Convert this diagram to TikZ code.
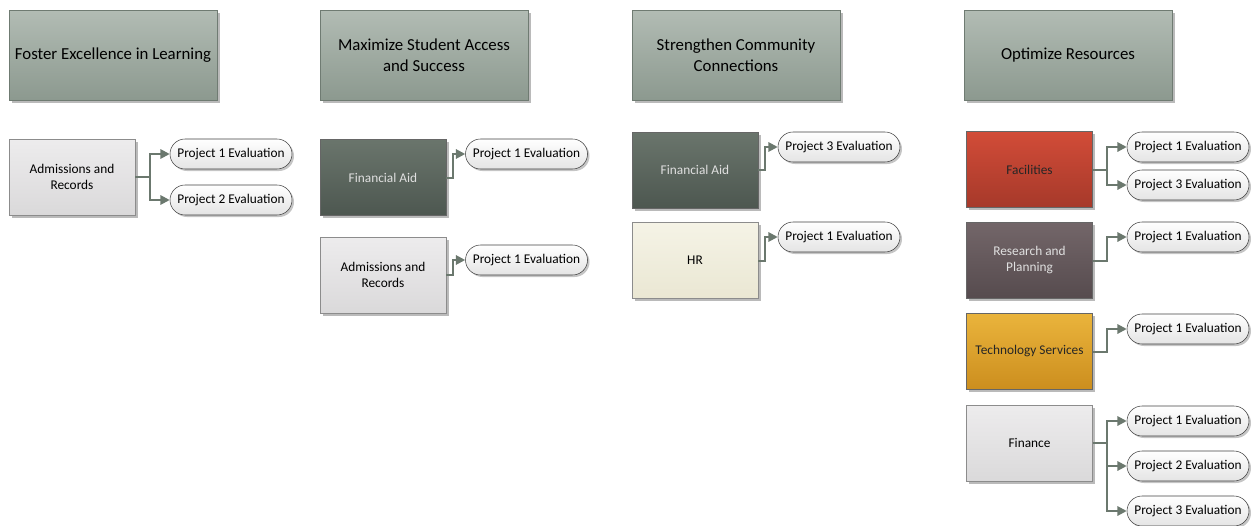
\documentclass[tikz,border=0pt]{standalone}
\usepackage{fontspec}
\setmainfont{Carlito}
\usetikzlibrary{shadows,arrows.meta}
\definecolor{goaltop}{HTML}{B2BCB4}
\definecolor{goalbot}{HTML}{8C998F}
\definecolor{goalline}{HTML}{6F7B72}
\definecolor{greytop}{HTML}{EDECED}
\definecolor{greybot}{HTML}{DAD9DA}
\definecolor{darktop}{HTML}{6A756C}
\definecolor{darkbot}{HTML}{4D5750}
\definecolor{creamtop}{HTML}{F5F3E6}
\definecolor{creambot}{HTML}{EAE7D3}
\definecolor{redtop}{HTML}{D24C38}
\definecolor{redbot}{HTML}{A6392A}
\definecolor{mauvetop}{HTML}{736669}
\definecolor{mauvebot}{HTML}{564B4E}
\definecolor{goldtop}{HTML}{EAB43C}
\definecolor{goldbot}{HTML}{CC8E1E}
\definecolor{pillbot}{HTML}{E4E4E4}
\definecolor{linkcol}{HTML}{6B786E}
\tikzstyle{goal} = [rectangle, minimum width=156pt, minimum height=67.5pt,
align=center, draw=goalline, top color=goaltop, bottom color=goalbot,
drop shadow={shadow xshift=2pt, shadow yshift=-2pt, fill=black!45, opacity=.6},
font=\fontsize{12.6}{15.75}\selectfont]
\tikzstyle{unit} = [rectangle, minimum width=94.5pt, minimum height=57pt,
align=center, draw=black!45, top color=greytop, bottom color=greybot,
drop shadow={shadow xshift=2pt, shadow yshift=-2pt, fill=black!45, opacity=.6},
font=\fontsize{10}{12}\selectfont]
\tikzstyle{darkunit} = [unit, draw=black!60, top color=darktop, bottom color=darkbot, text=white!88!black]
\tikzstyle{project} = [rectangle, rounded corners=11.25pt, minimum width=91.5pt,
minimum height=22.5pt, draw=black!75, top color=white, bottom color=pillbot,
drop shadow={shadow xshift=1.5pt, shadow yshift=-1.5pt, fill=black!45, opacity=.5},
font=\fontsize{10}{12}\selectfont]
\tikzstyle{arrow} = [line width=1.5pt, draw=linkcol, -{Triangle[length=7pt,width=7pt,fill=linkcol]}]

\begin{document}
\begin{tikzpicture}[x=0.75pt, y=-0.75pt]
    \useasboundingbox (0,0) rectangle (1252,525);
    \node (g1) [goal] at (113,55) {Foster Excellence in Learning};
    \node (g2) [goal] at (424,55) {Maximize Student Access\\and Success};
    \node (g3) [goal] at (736,55) {Strengthen Community\\Connections};
    \node (g4) [goal] at (1068,55) {Optimize Resources};

    \node (u1) [unit] at (72,177) {Admissions and\\Records};
    \node (p11) [project] at (231,154) {Project 1 Evaluation};
    \node (p12) [project] at (231,200) {Project 2 Evaluation};
    \draw [arrow] (u1.east) -- ++(15,0) |- (p11.west);
    \draw [arrow] (u1.east) -- ++(15,0) |- (p12.west);

    \node (u21) [darkunit] at (383,177.5) {Financial Aid};
    \node (p21) [project] at (526.5,154) {Project 1 Evaluation};
    \node (u22) [unit] at (383,275) {Admissions and\\Records};
    \node (p22) [project] at (526.5,260) {Project 1 Evaluation};
    \draw [arrow] (u21.east) -- ++(7,0) |- (p21.west);
    \draw [arrow] (u22.east) -- ++(7,0) |- (p22.west);

    \node (u31) [darkunit] at (695,170) {Financial Aid};
    \node (p31) [project] at (839,147) {Project 3 Evaluation};
    \node (u32) [unit, top color=creamtop, bottom color=creambot] at (695,260.5) {HR};
    \node (p32) [project] at (839,237) {Project 1 Evaluation};
    \draw [arrow] (u31.east) -- ++(7,0) |- (p31.west);
    \draw [arrow] (u32.east) -- ++(7,0) |- (p32.west);

    \node (u41) [unit, draw=black!60, top color=redtop, bottom color=redbot, text=black!85] at (1029.5,169.5) {Facilities};
    \node (p411) [project] at (1188,147) {Project 1 Evaluation};
    \node (p412) [project] at (1188,185) {Project 3 Evaluation};
    \node (u42) [darkunit, top color=mauvetop, bottom color=mauvebot] at (1029.5,260.5) {Research and\\Planning};
    \node (p42) [project] at (1188,237) {Project 1 Evaluation};
    \node (u43) [unit, draw=black!60, top color=goldtop, bottom color=goldbot, text=black!85] at (1029.5,351.5) {Technology Services};
    \node (p43) [project] at (1188,329) {Project 1 Evaluation};
    \node (u44) [unit] at (1029.5,443) {Finance};
    \node (p441) [project] at (1188,421) {Project 1 Evaluation};
    \node (p442) [project] at (1188,466) {Project 2 Evaluation};
    \node (p443) [project] at (1188,511) {Project 3 Evaluation};
    \draw [arrow] (u41.east) -- ++(14,0) |- (p411.west);
    \draw [arrow] (u41.east) -- ++(14,0) |- (p412.west);
    \draw [arrow] (u42.east) -- ++(14,0) |- (p42.west);
    \draw [arrow] (u43.east) -- ++(14,0) |- (p43.west);
    \draw [arrow] (u44.east) -- ++(14,0) |- (p441.west);
    \draw [arrow] (u44.east) -- ++(14,0) |- (p442.west);
    \draw [arrow] (u44.east) -- ++(14,0) |- (p443.west);
\end{tikzpicture}
\end{document}
